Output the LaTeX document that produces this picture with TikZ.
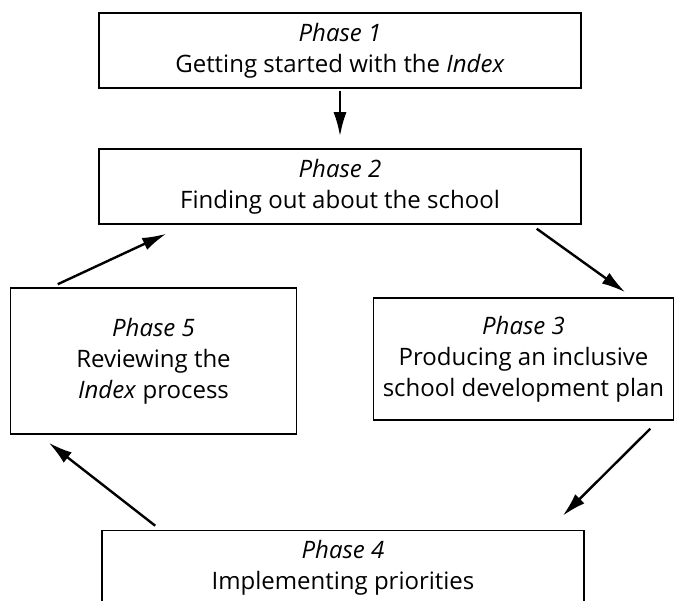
\documentclass[tikz,border=0pt]{standalone}
\usepackage{fontspec}
\setmainfont{Open Sans}
\usepackage{tikz}
\usetikzlibrary{
  calc,
  arrows.meta, % for Latex arrows
  positioning}
\tikzstyle{phase} = [draw, line width=1.5pt, align=center, inner sep=0pt,
  font=\fontsize{24}{31}\selectfont]
\tikzstyle{wide} = [minimum width=482pt, minimum height=75pt]
\tikzstyle{side} = [minimum height=146pt]
\tikzstyle{flow} = [->, line width=2.4pt]

\begin{document}
\begin{tikzpicture}[ x=1pt, y=1pt, node distance=136pt, >={Latex[length=24pt,width=13pt]} ]
\useasboundingbox (0,0) rectangle (675,601);

\node[phase,wide] (p1) at (340,550.5) {\textit{Phase 1}\\Getting started with the \textit{Index}};
\node[phase,wide,below of=p1] (p2) {\textit{Phase 2}\\Finding out about the school};
\node[phase,side,minimum width=286pt,below of=p2,node distance=174.5pt,xshift=-186.5pt] (p5) {\textit{Phase 5}\\Reviewing the\\\textit{Index} process};
\node[phase,minimum width=300pt,minimum height=122pt,below of=p2,node distance=172.5pt,xshift=183.5pt] (p3) {\textit{Phase 3}\\Producing an inclusive\\school development plan};
\node[phase,wide,below of=p2,node distance=381.5pt,xshift=3pt] (p4) {\textit{Phase 4}\\Implementing priorities};

\draw[flow] ([yshift=-2pt]p1.south) -- ([yshift=12pt]p2.north);
\draw[flow] ([xshift=-45pt,yshift=-4pt]p2.south east) -- ([xshift=-49pt,yshift=5pt]p3.north east);
\draw[flow] ([xshift=-24pt,yshift=-8pt]p3.south east) -- ([xshift=-22pt,yshift=14pt]p4.north east);
\draw[flow] ([xshift=54pt,yshift=4pt]p4.north west) -- ([xshift=39pt,yshift=-8pt]p5.south west);
\draw[flow] ([xshift=48pt,yshift=3pt]p5.north west) -- ([xshift=68pt,yshift=-9pt]p2.south west);

\end{tikzpicture}
\end{document}
